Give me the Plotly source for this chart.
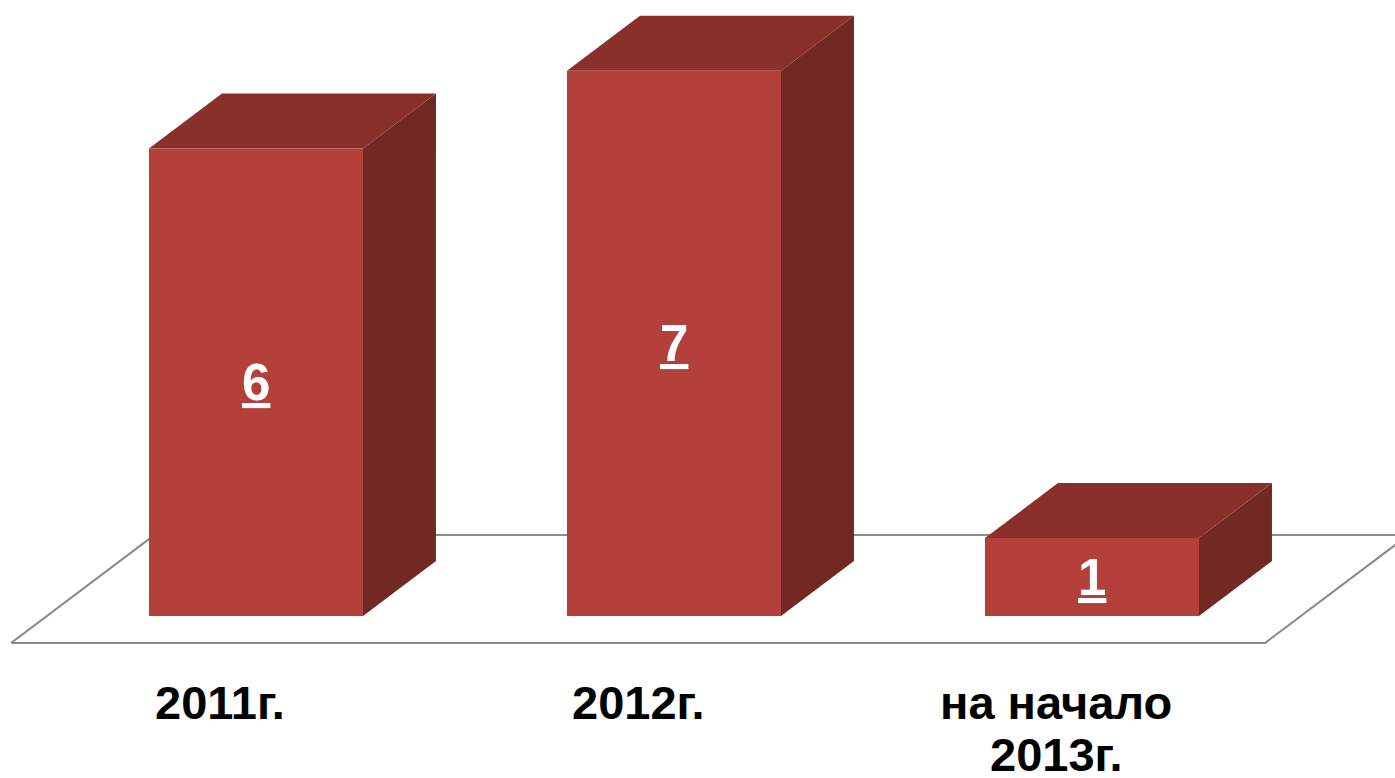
import plotly.graph_objects as go

# Data
categories = ["2011г.", "2012г.", "на начало<br>2013г."]
cat_lines = [["2011г."], ["2012г."], ["на начало", "2013г."]]
values = [6, 7, 1]

# Styling / geometry (in axis units)
FRONT = "#B3403A"
TOP = "#8A302A"
SIDE = "#722823"
FLOOR = "#8C8C8C"
HALF_W = 0.256          # half bar width in category units
DX, DY = 0.1746, 0.706  # 3D depth offset
X_RANGE = [-0.6124, 2.7249]
Y_RANGE = [-2.08, 7.907]

fig = go.Figure()

# Floor
n = len(values)
fl, fr = -0.5, n - 0.5
f_front, f_back = -0.49, 1.47
floor_x = [fl + f_front * DX, fr + f_front * DX, fr + f_back * DX, fl + f_back * DX, fl + f_front * DX]
floor_y = [f_front * DY, f_front * DY, f_back * DY, f_back * DY, f_front * DY]
fig.add_trace(go.Scatter(x=floor_x, y=floor_y, mode="lines",
                         line=dict(color=FLOOR, width=2), hoverinfo="skip", showlegend=False))

for i, v in enumerate(values):
    l, r = i - HALF_W, i + HALF_W
    # side
    fig.add_trace(go.Scatter(x=[r, r + DX, r + DX, r, r], y=[0, DY, v + DY, v, 0],
                             fill="toself", fillcolor=SIDE, mode="none",
                             hoverinfo="skip", showlegend=False))
    # top
    fig.add_trace(go.Scatter(x=[l, r, r + DX, l + DX, l], y=[v, v, v + DY, v + DY, v],
                             fill="toself", fillcolor=TOP, mode="none",
                             hoverinfo="skip", showlegend=False))
    # front
    fig.add_trace(go.Scatter(x=[l, r, r, l, l], y=[0, 0, v, v, 0],
                             fill="toself", fillcolor=FRONT, mode="none",
                             hoverinfo="skip", showlegend=False))
    # value label
    fig.add_annotation(x=i, y=v / 2, xref="x", yref="y", text=f"<b><u>{v}</u></b>",
                       showarrow=False, font=dict(family="Liberation Sans", size=51, color="white"))
    # category labels (projected to the floor's front edge)
    for k, line in enumerate(cat_lines[i]):
        fig.add_annotation(x=i + f_front * DX, y=-1.11 - k * 0.665, xref="x", yref="y",
                           text=f"<b>{line}</b>", showarrow=False,
                           font=dict(family="Liberation Sans", size=47, color="black"))

fig.update_layout(
    width=1395, height=778,
    margin=dict(l=0, r=0, t=0, b=0),
    paper_bgcolor="white", plot_bgcolor="white",
    xaxis=dict(range=X_RANGE, visible=False, fixedrange=True),
    yaxis=dict(range=Y_RANGE, visible=False, fixedrange=True),
    showlegend=False,
)

fig.write_html("out.html", config={"displayModeBar": False},
               post_script="document.body.style.margin='0';document.body.style.overflow='hidden';")
